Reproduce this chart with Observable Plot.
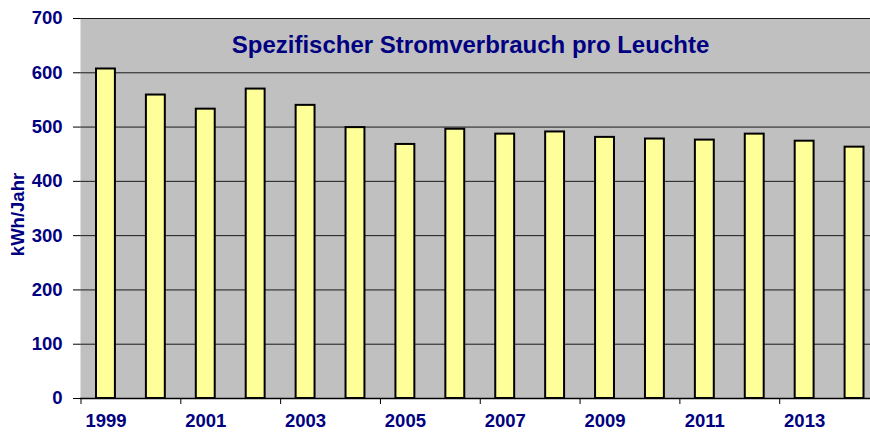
<!DOCTYPE html>
<html>
<head>
<meta charset="utf-8">
<script src="https://cdn.jsdelivr.net/npm/d3@7"></script>
<script src="https://cdn.jsdelivr.net/npm/@observablehq/plot@0.6"></script>
<style>
  html, body { margin: 0; padding: 0; background: #fff; overflow: hidden; }
  #chart svg { font-family: "Liberation Sans", Arial, sans-serif; }
</style>
</head>
<body>
<div id="chart"></div>
<script>
const title = "Spezifischer Stromverbrauch pro Leuchte";
const yLabel = "kWh/Jahr";
const years = [1999, 2000, 2001, 2002, 2003, 2004, 2005, 2006, 2007, 2008, 2009, 2010, 2011, 2012, 2013, 2014];
const values = [607, 559, 533, 570, 540, 499, 468, 496, 487, 491, 481, 478, 476, 487, 474, 463];
const xTickYears = [1999, 2001, 2003, 2005, 2007, 2009, 2011, 2013];
const yTicks = [0, 100, 200, 300, 400, 500, 600, 700];

const data = years.map((y, i) => ({year: y, value: values[i]}));

const W = 870, H = 432;
const x0 = 80.5, x1 = 879;
const step = (x1 - x0) / years.length;
const navy = "#000080";

const chart = Plot.plot({
  width: W,
  height: H,
  marginLeft: 80,
  marginRight: 0,
  marginTop: 18,
  marginBottom: 34,
  style: {fontFamily: "Liberation Sans, Arial, sans-serif", background: "#fff", overflow: "hidden"},
  x: {type: "band", domain: years, range: [x0, x1], padding: 0, round: false},
  y: {domain: [0, 700]},
  marks: [
    Plot.frame({fill: "#c0c0c0", stroke: null}),
    Plot.ruleY(yTicks.filter(d => d > 0), {stroke: "#1a1a1a", strokeWidth: 1}),
    Plot.barY(data, {x: "year", y: "value", fill: "#ffff99", stroke: "#000", strokeWidth: 2, insetLeft: 15.5, insetRight: 15.5}),
    Plot.ruleY([0], {stroke: "#000", strokeWidth: 1.5}),
    Plot.ruleX([0], {frameAnchor: "left", stroke: "#000", strokeWidth: 1.5}),
    Plot.axisY({ticks: yTicks, tickSize: 7, tickPadding: 11, fontSize: 18.5, fontWeight: "bold", fill: navy, label: null, tickFormat: d => String(d)}),
    Plot.axisX({ticks: xTickYears, tickSize: 6, tickFormat: () => "", dx: -step / 2, label: null}),
    Plot.axisX({ticks: xTickYears, tickSize: 0, tickPadding: 15, fontSize: 18.5, fontWeight: "bold", fill: navy, label: null, tickFormat: d => String(d)}),
    Plot.text([title], {frameAnchor: "top", dx: -5, dy: 17, fontSize: 24, fontWeight: "bold", fill: navy}),
    Plot.text([yLabel], {frameAnchor: "left", textAnchor: "middle", rotate: -90, dx: -62, dy: 6, fontSize: 18.5, fontWeight: "bold", fill: navy})
  ]
});
document.getElementById("chart").appendChild(chart);
</script>
</body>
</html>
